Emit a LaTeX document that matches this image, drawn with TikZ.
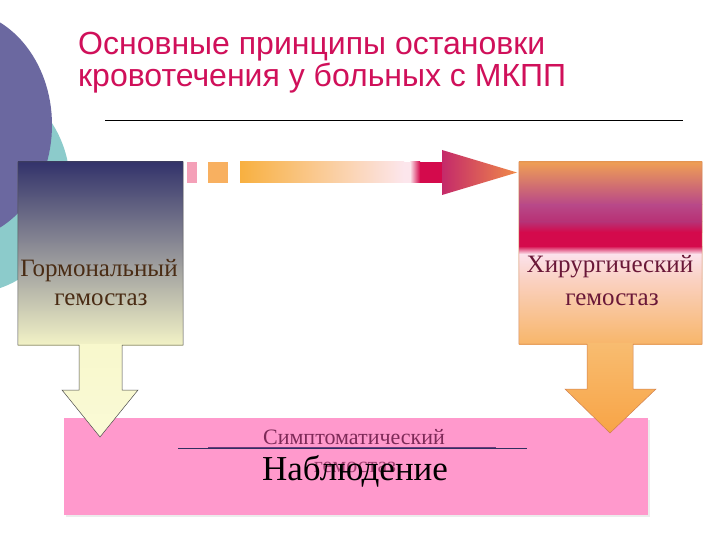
\documentclass[tikz,border=0pt]{standalone}
\usepackage{fontspec}
\setmainfont{Liberation Serif}
\newfontfamily\titlefont{Liberation Sans}
\usetikzlibrary{shadows}
\definecolor{purplebg}{HTML}{6B68A0}
\definecolor{tealbg}{HTML}{8CCBCB}
\definecolor{titlered}{HTML}{D0105A}
\definecolor{navytop}{HTML}{33336B}
\definecolor{midgray}{HTML}{8C8C86}
\definecolor{paleyel}{HTML}{F2F2C6}
\definecolor{arrowyel}{HTML}{F8F8CC}
\definecolor{arrowyelb}{HTML}{FAFAD6}
\definecolor{lefttext}{HTML}{4A2C14}
\definecolor{righttext}{HTML}{6A1838}
\definecolor{symtext}{HTML}{7E2A58}
\definecolor{hidtext}{HTML}{A04070}
\definecolor{obspink}{HTML}{FF99CC}
\definecolor{rorange}{HTML}{EF9F55}
\definecolor{rmauve}{HTML}{B84888}
\definecolor{rmag}{HTML}{B83074}
\definecolor{crimson}{HTML}{D40A4C}
\definecolor{palepink}{HTML}{FCE2EC}
\definecolor{peach}{HTML}{FAD2C4}
\definecolor{lorange}{HTML}{F8B66A}
\definecolor{aorange}{HTML}{F8BC70}
\definecolor{aorangeb}{HTML}{F8A446}
\definecolor{redge}{HTML}{D08050}
\definecolor{barorange}{HTML}{F8B040}
\definecolor{barpale}{HTML}{FCE6EC}
\definecolor{headl}{HTML}{C42A6A}
\definecolor{headr}{HTML}{F08A48}
\definecolor{sqpink}{HTML}{F4A0B8}
\definecolor{sqorange}{HTML}{F8B060}
\definecolor{linenavy}{HTML}{303060}
\definecolor{linepurple}{HTML}{6A3A7A}
\begin{document}
\begin{tikzpicture}[x=1pt,y=-1pt,
  titletext/.style={anchor=base west, inner sep=0, text=titlered, font=\titlefont\fontsize{32}{36}\selectfont},
  boxtext/.style={anchor=base, inner sep=0, font=\fontsize{25}{29}\selectfont},
]
\useasboundingbox (0,0) rectangle (720,540);
\fill[white] (0,0) rectangle (720,540);
% background shapes
\fill[tealbg] (-30,185) ellipse [x radius=100, y radius=108];
\fill[purplebg] (-43,125) ellipse [x radius=95, y radius=115];
% title
\node[titletext] (t1) at (78,55) {Основные принципы остановки};
\node[titletext] (t2) at (78,87) {кровотечения у больных с МКПП};
\draw[line width=0.8pt] (105,120) coordinate (r1) -- (683,120) coordinate (r2);
% bottom pink panel
\node[inner sep=0, minimum width=584pt, minimum height=97pt, fill=obspink,
  drop shadow={opacity=0.15, shadow xshift=2pt, shadow yshift=-2pt}] (obs) at (356,466.5) {};
% left box
\node[inner sep=0, minimum width=165pt, minimum height=183pt,
  top color=navytop, middle color=midgray, bottom color=paleyel] (L) at (100.5,253.5) {};
\shade[top color=arrowyel, bottom color=arrowyelb]
  (79,344) -- (122,344) -- (122,390) -- (138,390) -- (100,437) -- (62,390) -- (79,390) -- cycle;
\draw[line width=0.5pt, black!70] (L.north west) -- (L.north east) -- (L.south east) -- (122,345) -- (122,390)
  -- (138,390) -- (100,437) coordinate (ltip) -- (62,390) -- (79,390) -- (79,345) -- (L.south west) -- cycle;
% right box
\shade[top color=rorange, bottom color=rmauve] (519,162) rectangle (702,205);
\shade[top color=rmauve, bottom color=rmag] (519,205) rectangle (702,222);
\shade[top color=rmag, bottom color=crimson] (519,222) rectangle (702,232);
\fill[crimson] (519,232) rectangle (702,246);
\shade[top color=crimson, bottom color=palepink] (519,246) rectangle (702,254);
\shade[top color=palepink, bottom color=peach] (519,254) rectangle (702,278);
\shade[top color=peach, bottom color=lorange] (519,278) rectangle (702,344);
\node[inner sep=0, minimum width=183pt, minimum height=182pt] (R) at (610.5,253) {};
\shade[top color=aorange, bottom color=aorangeb]
  (587,343) -- (633,343) -- (633,389) -- (656,389) -- (610,433) -- (565,389) -- (587,389) -- cycle;
\draw[line width=0.5pt, redge] (R.north west) -- (R.north east) -- (R.south east) -- (633,344) -- (633,389)
  -- (656,389) -- (610,433) coordinate (rtip) -- (565,389) -- (587,389) -- (587,344) -- (R.south west) -- cycle;
% box texts
\node[boxtext, text=lefttext] (lt1) at (99,276) {Гормональный};
\node[boxtext, text=lefttext] (lt2) at (101,305) {гемостаз};
\node[boxtext, text=righttext] (rt1) at (610,272) {Хирургический};
\node[boxtext, text=righttext] (rt2) at (612,305) {гемостаз};
% top arrow
\fill[sqpink] (187,162) rectangle (197,183);
\fill[sqorange] (208,162) rectangle (228,183);
\shade[left color=barorange, right color=barpale] (240,162) rectangle (404,183);
\fill[barpale] (404,162) rectangle (410,183);
\shade[left color=barpale, right color=crimson] (410,162) rectangle (420,183);
\fill[crimson] (420,162) rectangle (443,183);
\shade[left color=headl, right color=headr] (442,150) -- (517,172.5) -- (442,195) -- cycle;
% panel texts
\node[anchor=base, inner sep=0, text=symtext, font=\fontsize{22}{26}\selectfont] (sym) at (354,444) {Симптоматический};
\draw[linenavy, line width=0.7pt] (178,448) -- (527,448);
\draw[linepurple, line width=1.6pt] (208,447.5) -- (496,447.5);
\node[anchor=base, inner sep=0, text=hidtext, font=\fontsize{22}{26}\selectfont] (hid) at (355,472) {гемостаз};
\node[anchor=base, inner sep=0, text=black, font=\fontsize{35}{40}\selectfont] (nab) at (355,480) {Наблюдение};
\end{tikzpicture}
\end{document}
